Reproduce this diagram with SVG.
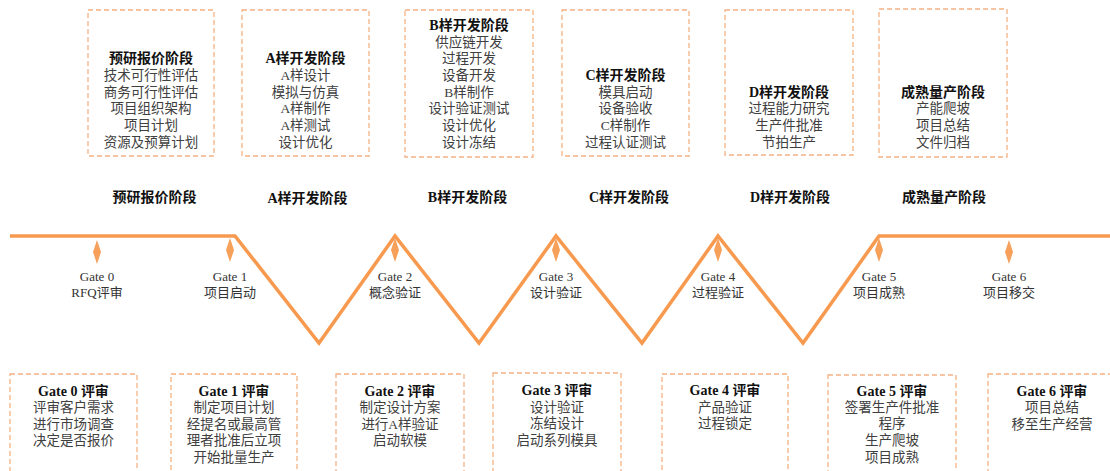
<svg xmlns="http://www.w3.org/2000/svg" width="1110" height="471" viewBox="0 0 1110 471">
<style>
  .box{fill:#fff;stroke:#F4B183;stroke-width:1.3;stroke-dasharray:5 3}
  text{font-family:"Liberation Serif","Noto Sans CJK SC",serif;text-anchor:middle}
  .t{font-size:14px;font-weight:bold;fill:#111}
  .b{font-size:13.5px;fill:#404040}
  .g{font-size:13px;fill:#333}
  .ph{font-size:14px;font-weight:bold;fill:#111}
  .line{fill:none;stroke:#F79A4F;stroke-width:3.5;stroke-linejoin:miter}
  .dia{fill:#F7A05A}
</style>
<defs>
  <path id="dm" d="M0,240 L4,252 L0,264 L-4,252 Z"/>
</defs>

<g id="phase-boxes">
  <g id="box-pre">
    <rect class="box" x="88" y="10" width="126" height="146"/>
    <text class="t" x="151" y="63">预研报价阶段</text>
    <text class="b" x="151" y="80">技术可行性评估</text>
    <text class="b" x="151" y="96.7">商务可行性评估</text>
    <text class="b" x="151" y="113.3">项目组织架构</text>
    <text class="b" x="151" y="130">项目计划</text>
    <text class="b" x="151" y="146.7">资源及预算计划</text>
  </g>
  <g id="box-a">
    <rect class="box" x="242" y="10" width="127" height="146"/>
    <text class="t" x="305.5" y="63">A样开发阶段</text>
    <text class="b" x="305.5" y="80">A样设计</text>
    <text class="b" x="305.5" y="96.7">模拟与仿真</text>
    <text class="b" x="305.5" y="113.3">A样制作</text>
    <text class="b" x="305.5" y="130">A样测试</text>
    <text class="b" x="305.5" y="146.7">设计优化</text>
  </g>
  <g id="box-b">
    <rect class="box" x="405" y="10" width="128" height="147"/>
    <text class="t" x="469" y="30">B样开发阶段</text>
    <text class="b" x="469" y="46.7">供应链开发</text>
    <text class="b" x="469" y="63.3">过程开发</text>
    <text class="b" x="469" y="80">设备开发</text>
    <text class="b" x="469" y="96.7">B样制作</text>
    <text class="b" x="469" y="113.3">设计验证测试</text>
    <text class="b" x="469" y="130">设计优化</text>
    <text class="b" x="469" y="146.7">设计冻结</text>
  </g>
  <g id="box-c">
    <rect class="box" x="562" y="10" width="127" height="146"/>
    <text class="t" x="625.5" y="80">C样开发阶段</text>
    <text class="b" x="625.5" y="96.7">模具启动</text>
    <text class="b" x="625.5" y="113.3">设备验收</text>
    <text class="b" x="625.5" y="130">C样制作</text>
    <text class="b" x="625.5" y="146.7">过程认证测试</text>
  </g>
  <g id="box-d">
    <rect class="box" x="725" y="10" width="128" height="145"/>
    <text class="t" x="789" y="96.7">D样开发阶段</text>
    <text class="b" x="789" y="113.3">过程能力研究</text>
    <text class="b" x="789" y="130">生产件批准</text>
    <text class="b" x="789" y="146.7">节拍生产</text>
  </g>
  <g id="box-mp">
    <rect class="box" x="879" y="9" width="128" height="148"/>
    <text class="t" x="943" y="96.7">成熟量产阶段</text>
    <text class="b" x="943" y="113.3">产能爬坡</text>
    <text class="b" x="943" y="130">项目总结</text>
    <text class="b" x="943" y="146.7">文件归档</text>
  </g>
</g>

<g id="phase-labels">
  <text class="ph" x="154.5" y="201.7">预研报价阶段</text>
  <text class="ph" x="307.5" y="202.5">A样开发阶段</text>
  <text class="ph" x="467.5" y="202">B样开发阶段</text>
  <text class="ph" x="629" y="202">C样开发阶段</text>
  <text class="ph" x="790" y="202">D样开发阶段</text>
  <text class="ph" x="944" y="202">成熟量产阶段</text>
</g>

<g id="connectors">
  <polyline class="line" points="10,236 235,236 319,343 395,236 479,343 556,236 642,343 718,236 803,343 879,236 1112,236"/>
</g>

<g id="gates">
  <g id="gate0"><use href="#dm" class="dia" transform="translate(97,0)"/>
    <text class="g" x="97" y="280.5">Gate 0</text><text class="g" x="97" y="296.5">RFQ评审</text></g>
  <g id="gate1"><use href="#dm" class="dia" transform="translate(230,-2)"/>
    <text class="g" x="230" y="280.5">Gate 1</text><text class="g" x="230" y="296.5">项目启动</text></g>
  <g id="gate2"><use href="#dm" class="dia" transform="translate(395,-2)"/>
    <text class="g" x="395" y="280.5">Gate 2</text><text class="g" x="395" y="296.5">概念验证</text></g>
  <g id="gate3"><use href="#dm" class="dia" transform="translate(556,-2)"/>
    <text class="g" x="556" y="280.5">Gate 3</text><text class="g" x="556" y="296.5">设计验证</text></g>
  <g id="gate4"><use href="#dm" class="dia" transform="translate(718,-2)"/>
    <text class="g" x="718" y="280.5">Gate 4</text><text class="g" x="718" y="296.5">过程验证</text></g>
  <g id="gate5"><use href="#dm" class="dia" transform="translate(879,-2)"/>
    <text class="g" x="879" y="280.5">Gate 5</text><text class="g" x="879" y="296.5">项目成熟</text></g>
  <g id="gate6"><use href="#dm" class="dia" transform="translate(1009,0)"/>
    <text class="g" x="1009" y="280.5">Gate 6</text><text class="g" x="1009" y="296.5">项目移交</text></g>
</g>

<g id="review-boxes">
  <g id="review0">
    <rect class="box" x="10" y="374" width="127" height="110"/>
    <text class="t" x="73.5" y="395.5">Gate 0 评审</text>
    <text class="b" x="73.5" y="412">评审客户需求</text>
    <text class="b" x="73.5" y="428.5">进行市场调查</text>
    <text class="b" x="73.5" y="445">决定是否报价</text>
  </g>
  <g id="review1">
    <rect class="box" x="171" y="374" width="126" height="110"/>
    <text class="t" x="234" y="395.5">Gate 1 评审</text>
    <text class="b" x="234" y="412">制定项目计划</text>
    <text class="b" x="234" y="428.5">经提名或最高管</text>
    <text class="b" x="234" y="445">理者批准后立项</text>
    <text class="b" x="234" y="461.5">开始批量生产</text>
  </g>
  <g id="review2">
    <rect class="box" x="336" y="374" width="128" height="110"/>
    <text class="t" x="400" y="395.5">Gate 2 评审</text>
    <text class="b" x="400" y="412">制定设计方案</text>
    <text class="b" x="400" y="428.5">进行A样验证</text>
    <text class="b" x="400" y="445">启动软模</text>
  </g>
  <g id="review3">
    <rect class="box" x="493" y="373" width="128" height="110"/>
    <text class="t" x="557" y="395">Gate 3 评审</text>
    <text class="b" x="557" y="411.5">设计验证</text>
    <text class="b" x="557" y="428">冻结设计</text>
    <text class="b" x="557" y="444.5">启动系列模具</text>
  </g>
  <g id="review4">
    <rect class="box" x="662" y="374" width="126" height="110"/>
    <text class="t" x="725" y="395">Gate 4 评审</text>
    <text class="b" x="725" y="411.5">产品验证</text>
    <text class="b" x="725" y="428">过程锁定</text>
  </g>
  <g id="review5">
    <rect class="box" x="828" y="375" width="128" height="110"/>
    <text class="t" x="892" y="395.5">Gate 5 评审</text>
    <text class="b" x="892" y="412">签署生产件批准</text>
    <text class="b" x="892" y="428">程序</text>
    <text class="b" x="892" y="445">生产爬坡</text>
    <text class="b" x="892" y="461.5">项目成熟</text>
  </g>
  <g id="review6">
    <rect class="box" x="988" y="374" width="128" height="110"/>
    <text class="t" x="1052" y="395.5">Gate 6 评审</text>
    <text class="b" x="1052" y="412">项目总结</text>
    <text class="b" x="1052" y="428.5">移至生产经营</text>
  </g>
</g>
</svg>
